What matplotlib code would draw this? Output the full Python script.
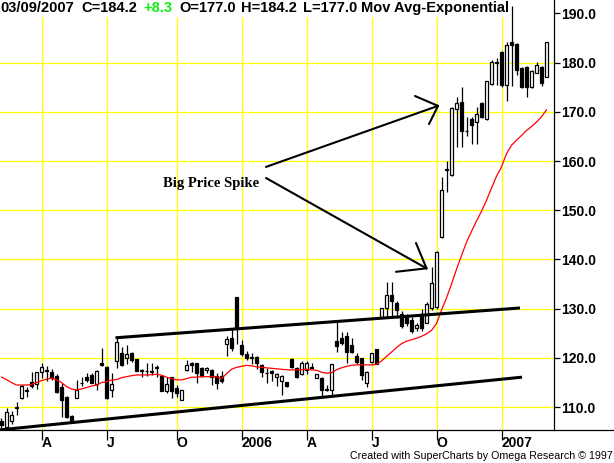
import numpy as np
import pandas as pd
import matplotlib
matplotlib.use("Agg")
import matplotlib.pyplot as plt
from matplotlib.lines import Line2D

# weekly bars, dated by the Friday that ends the week
weeks = pd.date_range("2005-02-04", periods=110, freq="W-FRI")

opens = [107.2, 106.0, 107.2, 109.8, 111.9, 113.2, 115.1, 114.7, 117.2, 117.5,
         117.1, 116.4, 114.2, 112.1, 108.2, 111.9, 114.9, 116.1, 116.5, 114.7,
         119.0, 118.2, 113.4, 119.4, 121.1, 119.9, 121.1, 119.7, 117.4, 117.3,
         117.2, 118.0, 116.4, 113.2, 116.1, 114.0, 111.5, 117.5, 119.0, 118.9,
         118.0, 117.5, 117.5, 116.3, 116.3, 122.9, 124.0, 132.3, 122.6, 120.8,
         120.0, 120.1, 118.6, 117.0, 117.3, 116.1, 115.4, 115.1, 119.8, 118.0,
         116.7, 117.6, 118.1, 116.0, 116.0, 113.6, 113.5, 123.5, 124.1, 124.5,
         122.6, 120.4, 120.0, 115.0, 119.1, 121.8, 128.4, 130.1, 132.8, 131.1,
         129.0, 128.5, 127.8, 126.0, 129.0, 127.2, 130.1, 130.4, 144.5, 158.1,
         157.2, 170.5, 171.9, 166.1, 168.5, 168.0, 171.8, 168.5, 175.6, 180.0,
         182.1, 175.4, 184.1, 183.8, 178.8, 179.1, 175.0, 177.9, 179.1, 177.0]
highs = [107.8, 109.9, 109.3, 111.1, 114.6, 114.1, 117.1, 117.2, 119.0, 118.3,
         117.7, 116.7, 115.0, 112.3, 108.5, 115.5, 116.1, 116.9, 116.9, 117.5,
         122.1, 118.4, 117.0, 124.3, 122.3, 122.7, 121.3, 119.8, 117.7, 119.0,
         118.9, 118.6, 116.5, 116.2, 116.2, 114.6, 113.5, 119.6, 119.1, 119.0,
         118.2, 118.2, 117.8, 117.0, 117.3, 124.5, 125.8, 132.4, 123.6, 121.4,
         121.1, 120.4, 118.7, 118.0, 117.6, 117.0, 116.5, 115.2, 120.0, 118.2,
         119.4, 119.4, 118.9, 116.8, 116.1, 114.5, 118.8, 127.4, 125.3, 125.3,
         124.0, 121.0, 120.0, 117.3, 121.0, 121.8, 130.2, 135.5, 135.5, 131.5,
         129.6, 129.0, 128.3, 127.0, 130.0, 131.3, 138.5, 141.8, 156.8, 160.1,
         171.0, 172.9, 175.0, 169.0, 169.0, 170.9, 172.0, 176.3, 180.5, 181.0,
         182.3, 184.2, 191.5, 184.0, 179.0, 179.3, 178.4, 180.1, 179.3, 184.2]
lows = [105.8, 105.8, 106.5, 108.5, 111.7, 112.1, 113.9, 113.6, 116.0, 115.3,
        115.6, 112.9, 108.0, 107.8, 107.0, 111.8, 114.3, 115.2, 114.9, 113.4,
        118.4, 111.7, 112.0, 118.0, 118.4, 118.8, 119.2, 117.3, 116.2, 116.4,
        116.6, 116.2, 113.2, 112.8, 111.8, 112.0, 111.4, 117.4, 117.2, 115.0,
        116.2, 116.9, 114.6, 113.6, 115.0, 120.5, 121.5, 122.8, 120.3, 119.6,
        118.7, 117.8, 116.1, 114.9, 115.3, 114.3, 112.4, 114.2, 117.9, 115.9,
        116.5, 116.7, 118.0, 115.9, 112.0, 113.3, 112.0, 121.3, 122.6, 118.9,
        121.0, 118.7, 115.5, 114.2, 119.0, 118.7, 128.3, 128.1, 128.1, 128.1,
        126.0, 126.5, 125.0, 125.5, 125.5, 127.0, 129.8, 130.0, 144.3, 153.7,
        157.0, 162.9, 162.9, 165.1, 163.4, 163.4, 168.8, 168.4, 175.5, 175.5,
        175.0, 172.2, 175.2, 177.5, 174.8, 173.1, 174.9, 177.8, 175.3, 177.0]
closes = [106.3, 109.0, 108.5, 110.1, 114.4, 113.4, 114.4, 117.1, 118.1, 117.3,
          116.0, 113.0, 111.4, 108.0, 107.1, 113.5, 115.0, 115.6, 115.0, 117.4,
          118.5, 111.9, 114.8, 123.3, 118.6, 120.8, 119.5, 117.4, 117.5, 117.4,
          117.3, 118.1, 113.3, 114.7, 113.2, 112.8, 113.5, 118.6, 118.5, 116.9,
          116.3, 118.0, 116.2, 115.0, 115.3, 123.9, 122.0, 126.0, 120.8, 119.9,
          120.1, 118.9, 117.1, 116.9, 116.9, 116.7, 116.3, 114.3, 118.1, 116.1,
          118.9, 118.9, 118.0, 116.7, 113.4, 113.5, 118.7, 122.4, 123.1, 121.3,
          121.3, 119.2, 116.5, 117.2, 121.0, 118.8, 130.1, 132.8, 131.5, 129.8,
          126.5, 127.0, 125.5, 126.6, 126.0, 131.0, 135.2, 141.6, 154.1, 158.3,
          170.7, 171.7, 166.0, 166.0, 167.3, 169.5, 169.0, 176.2, 180.2, 180.1,
          175.4, 183.6, 183.6, 178.4, 175.0, 175.0, 178.2, 179.6, 175.9, 184.2]
# exponential moving average
ema = [116.1, 115.6, 115.0, 114.5, 114.5, 114.5, 114.6, 115.0, 115.4, 115.7,
       115.9, 115.6, 115.0, 114.2, 113.7, 113.5, 113.7, 114.0, 114.3, 114.5,
       115.0, 115.2, 115.5, 115.6, 116.0, 116.2, 116.4, 116.55, 116.55, 116.55,
       116.6, 116.7, 116.5, 116.1, 115.8, 115.55, 115.55, 115.8, 116.1, 116.1,
       116.2, 116.2, 116.2, 116.2, 115.8, 116.8, 117.7, 118.1, 118.3, 118.5,
       118.4, 118.2, 118.1, 118.0, 117.9, 117.8, 117.7, 117.6, 117.55, 117.6,
       117.6, 117.7, 117.6, 117.5, 117.1, 116.9, 117.0, 117.6, 118.0, 118.3,
       118.5, 118.6, 118.6, 118.6, 118.6, 118.7, 119.4, 120.3, 121.2, 122.1,
       122.9, 123.4, 123.7, 124.0, 124.4, 124.9, 125.6, 127.0, 129.7, 132.2,
       135.0, 138.0, 140.8, 143.5, 145.7, 147.8, 149.8, 152.0, 154.5, 156.9,
       158.8, 161.5, 163.2, 164.2, 165.2, 166.2, 167.0, 167.9, 169.0, 170.4]

# hand drawn trend channel: (bar index, price) at both ends
upper_line = ([22.8, 103.7], [124.1, 130.15])
lower_line = ([-0.3, 104.1], [105.4, 116.1])
# "Big Price Spike" arrows: tail, tip, and the two barbs
arrows = [((52.9, 158.8), (87.3, 171.2), (82.7, 173.2), (85.5, 167.5)),
          ((52.9, 156.55), (85.0, 138.2), (82.9, 143.35), (78.9, 137.5))]
note_pos = (41.9, 155.5)

W, H = 614, 463
fig = plt.figure(figsize=(W / 100, H / 100), dpi=100)
fig.patch.set_facecolor("white")
ax = fig.add_axes([0, 33 / H, 553.5 / W, 430 / H])
ax.set_xlim(-0.3, 110.4)
ax.set_ylim(105.37, 192.7)

x = np.arange(len(weeks))
o, hi, lo, c = (np.array(v) for v in (opens, highs, lows, closes))
up = c >= o
base = np.minimum(o, c)
span = np.maximum(np.abs(c - o), 0.05)

ax.vlines(x, lo, hi, color="black", lw=0.9, zorder=3)
ax.bar(x[up], span[up], 0.7, bottom=base[up], facecolor="white",
       edgecolor="black", lw=0.9, zorder=4)
ax.bar(x[~up], span[~up], 0.7, bottom=base[~up], facecolor="black",
       edgecolor="black", lw=0.9, zorder=4)
ax.plot(x, ema, color="red", lw=0.9, zorder=5)

ax.plot(*upper_line, color="black", lw=2.2, solid_capstyle="butt", zorder=6)
ax.plot(*lower_line, color="black", lw=2.2, solid_capstyle="butt", zorder=6)
for tail, tip, b1, b2 in arrows:
    for start in (tail, b1, b2):
        ax.plot([start[0], tip[0]], [start[1], tip[1]], color="black", lw=1.5,
                solid_capstyle="round", zorder=6)
ax.text(*note_pos, "Big Price Spike", ha="center", va="center",
        family="Liberation Serif", weight="bold", fontsize=10.5, zorder=7)

# ticks at the first bar of each quarter
ticks, labels = [], []
for i in range(1, len(weeks)):
    m = weeks[i].month
    if m != weeks[i - 1].month and m in (1, 4, 7, 10):
        ticks.append(i)
        labels.append(str(weeks[i].year) if m == 1 else "AJO"[(m - 4) // 3])
ax.set_xticks(ticks, labels)
yt = np.arange(110, 191, 10)
ax.set_yticks(yt, [f"{v:.1f}" for v in yt])
ax.yaxis.tick_right()

ax.set_axisbelow(True)
ax.grid(True, color="#ffff00", lw=0.9)
ax.axhspan(189.45, 192.7, color="white", zorder=1)

for s in ("left", "top"):
    ax.spines[s].set_visible(False)
ax.spines["right"].set_linewidth(0.9)
ax.spines["bottom"].set_linewidth(0.9)
ax.tick_params(axis="x", direction="out", length=7.5, width=0.9, pad=-3,
               labelsize=10)
ax.tick_params(axis="y", direction="out", length=4, width=0.9, pad=1.5,
               labelsize=10)
for t in ax.get_xticklabels():
    t.set_ha("left")
    t.set_weight("bold")
    t.set_family("Liberation Sans")
for t in ax.get_yticklabels():
    t.set_weight("bold")
    t.set_family("Liberation Sans")

fig.add_artist(Line2D([553.5 / W, 1], [33 / H, 33 / H], color="black", lw=0.9))

# header
chg = closes[-1] - closes[-2]
parts = [(0, weeks[-1].strftime("%m/%d/%Y"), "black"),
         (81, f"C={closes[-1]:.1f}", "black"),
         (143, f"{chg:+.1f}", "#11ee11"),
         (179, f"O={opens[-1]:.1f}", "black"),
         (241, f"H={highs[-1]:.1f}", "black"),
         (303, f"L={lows[-1]:.1f}", "black"),
         (361, "Mov Avg-Exponential", "black")]
for px, s, col in parts:
    fig.text(px / W, 1 - 8 / H, s, color=col, ha="left", va="center",
             family="Liberation Sans", weight="bold", fontsize=10.5)

fig.text(1 - 1 / W, 1 - 456 / H, "Created with SuperCharts by Omega Research \u00a9 1997",
         ha="right", va="center", family="Liberation Sans", fontsize=7.7)

fig.savefig("out.png", dpi=100)
